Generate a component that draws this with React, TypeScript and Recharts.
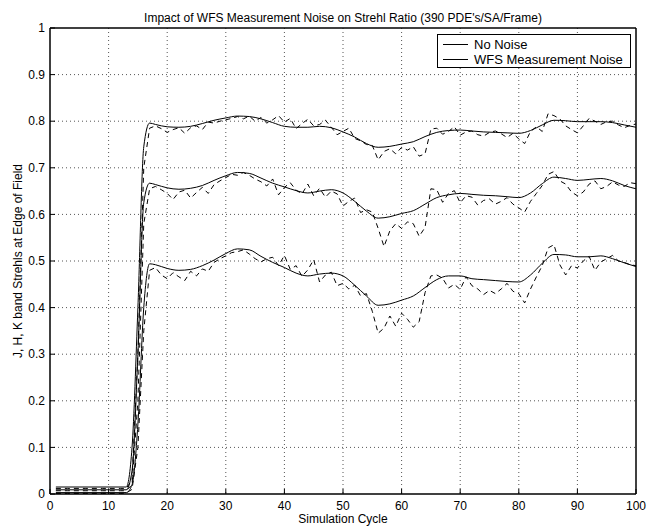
import { CartesianGrid, Line, LineChart, XAxis, YAxis } from "recharts";

// smooth curves (no measurement noise), sampled at these cycles
const cleanCycles = [
    1, 13, 14, 15, 16, 17, 18, 20, 22, 24, 26, 28, 30, 32, 34, 36, 38, 40, 42, 44, 46, 48, 50, 52, 54, 56, 58, 60, 62,
    64, 66, 68, 70, 72, 74, 76, 78, 80, 82, 84, 86, 88, 90, 92, 94, 96, 98, 100,
];
const kClean = [
    0.015, 0.015, 0.1, 0.4, 0.745, 0.796, 0.793, 0.788, 0.787, 0.789, 0.795, 0.802, 0.807, 0.811, 0.81, 0.805, 0.797,
    0.789, 0.787, 0.787, 0.789, 0.786, 0.777, 0.766, 0.752, 0.744, 0.746, 0.751, 0.756, 0.767, 0.776, 0.78, 0.781,
    0.779, 0.777, 0.776, 0.775, 0.774, 0.78, 0.792, 0.802, 0.801, 0.799, 0.799, 0.799, 0.797, 0.792, 0.787,
];
const hClean = [
    0.009, 0.009, 0.05, 0.3, 0.625, 0.667, 0.664, 0.657, 0.654, 0.656, 0.662, 0.673, 0.683, 0.69, 0.688, 0.678, 0.667,
    0.659, 0.651, 0.646, 0.65, 0.653, 0.646, 0.628, 0.607, 0.592, 0.595, 0.602, 0.608, 0.622, 0.636, 0.642, 0.645,
    0.643, 0.641, 0.64, 0.638, 0.636, 0.646, 0.666, 0.68, 0.677, 0.673, 0.675, 0.677, 0.672, 0.662, 0.655,
];
const jClean = [
    0.003, 0.003, 0.02, 0.15, 0.4, 0.494, 0.492, 0.484, 0.48, 0.482, 0.49, 0.502, 0.516, 0.526, 0.524, 0.51, 0.497,
    0.486, 0.474, 0.468, 0.472, 0.474, 0.468, 0.448, 0.425, 0.405, 0.408, 0.416, 0.425, 0.443, 0.46, 0.468, 0.468,
    0.462, 0.46, 0.458, 0.456, 0.455, 0.47, 0.495, 0.514, 0.513, 0.509, 0.509, 0.511, 0.505, 0.496, 0.488,
];

// with WFS measurement noise, one value per cycle
const noisyCycles = [
    1, 2, 3, 4, 5, 6, 7, 8, 9, 10, 11, 12, 13, 14, 15, 16, 17, 18, 19, 20, 21, 22, 23, 24, 25, 26, 27, 28, 29, 30, 31,
    32, 33, 34, 35, 36, 37, 38, 39, 40, 41, 42, 43, 44, 45, 46, 47, 48, 49, 50, 51, 52, 53, 54, 55, 56, 57, 58, 59, 60,
    61, 62, 63, 64, 65, 66, 67, 68, 69, 70, 71, 72, 73, 74, 75, 76, 77, 78, 79, 80, 81, 82, 83, 84, 85, 86, 87, 88, 89,
    90, 91, 92, 93, 94, 95, 96, 97, 98, 99, 100,
];
const kNoisy = [
    0.012, 0.012, 0.012, 0.012, 0.012, 0.012, 0.012, 0.012, 0.012, 0.012, 0.012, 0.012, 0.012, 0.03, 0.3, 0.7, 0.785,
    0.79, 0.784, 0.776, 0.782, 0.786, 0.774, 0.786, 0.79, 0.782, 0.798, 0.796, 0.8, 0.803, 0.806, 0.81, 0.805, 0.811,
    0.8, 0.808, 0.796, 0.803, 0.812, 0.798, 0.806, 0.784, 0.795, 0.804, 0.79, 0.793, 0.802, 0.787, 0.771, 0.778, 0.785,
    0.763, 0.758, 0.75, 0.748, 0.717, 0.735, 0.741, 0.73, 0.744, 0.738, 0.745, 0.725, 0.73, 0.783, 0.785, 0.772,
    0.778, 0.788, 0.77, 0.777, 0.779, 0.771, 0.768, 0.776, 0.779, 0.773, 0.765, 0.774, 0.762, 0.752, 0.778, 0.788,
    0.778, 0.816, 0.812, 0.805, 0.79, 0.782, 0.775, 0.79, 0.806, 0.8, 0.793, 0.799, 0.8, 0.792, 0.786, 0.791, 0.794,
];
const hNoisy = [
    0.007, 0.007, 0.007, 0.007, 0.007, 0.007, 0.007, 0.007, 0.007, 0.007, 0.007, 0.007, 0.007, 0.02, 0.2, 0.58, 0.655,
    0.66, 0.653, 0.645, 0.632, 0.648, 0.652, 0.635, 0.647, 0.658, 0.645, 0.664, 0.672, 0.679, 0.686, 0.684, 0.69,
    0.684, 0.676, 0.67, 0.661, 0.676, 0.642, 0.658, 0.668, 0.652, 0.644, 0.665, 0.64, 0.656, 0.637, 0.65, 0.644, 0.618,
    0.628, 0.635, 0.604, 0.61, 0.605, 0.57, 0.531, 0.565, 0.58, 0.57, 0.584, 0.58, 0.553, 0.572, 0.655, 0.653, 0.626,
    0.645, 0.651, 0.625, 0.64, 0.637, 0.62, 0.63, 0.633, 0.622, 0.628, 0.636, 0.622, 0.614, 0.605, 0.628, 0.645,
    0.662, 0.686, 0.692, 0.672, 0.665, 0.648, 0.64, 0.648, 0.665, 0.672, 0.655, 0.66, 0.67, 0.663, 0.66, 0.668, 0.666,
];
const jNoisy = [
    0.001, 0.001, 0.001, 0.001, 0.001, 0.001, 0.001, 0.001, 0.001, 0.001, 0.001, 0.001, 0.002, 0.01, 0.1, 0.35, 0.48,
    0.486, 0.47, 0.462, 0.475, 0.466, 0.458, 0.478, 0.468, 0.483, 0.478, 0.497, 0.505, 0.511, 0.518, 0.52, 0.524,
    0.515, 0.505, 0.498, 0.505, 0.508, 0.49, 0.512, 0.482, 0.49, 0.467, 0.481, 0.503, 0.455, 0.47, 0.476, 0.447, 0.452,
    0.44, 0.448, 0.425, 0.43, 0.392, 0.345, 0.356, 0.382, 0.36, 0.388, 0.375, 0.358, 0.37, 0.432, 0.468, 0.47, 0.463,
    0.442, 0.45, 0.439, 0.466, 0.447, 0.44, 0.428, 0.437, 0.43, 0.44, 0.452, 0.435, 0.43, 0.41, 0.44, 0.466, 0.49,
    0.528, 0.535, 0.492, 0.47, 0.49, 0.485, 0.5, 0.51, 0.48, 0.498, 0.505, 0.512, 0.5, 0.497, 0.492, 0.49,
];

const xTicks = [0, 10, 20, 30, 40, 50, 60, 70, 80, 90, 100];
const yTicks = [0, 0.1, 0.2, 0.3, 0.4, 0.5, 0.6, 0.7, 0.8, 0.9, 1];

const legendItems = ["No Noise", "WFS Measurement Noise"];

const font = '"Liberation Sans", Arial, sans-serif';

const toPoints = (xs: number[], ys: number[]) => xs.map((x, i) => ({ x, y: ys[i] }));

const tickStyle = { fill: "#000", fontSize: 12, fontFamily: font };

export default function App() {
    const clean = [kClean, hClean, jClean];
    const noisy = [kNoisy, hNoisy, jNoisy];

    return (
        <div style={{ position: "relative", width: 647, height: 527, background: "#fff", fontFamily: font }}>
            <style>{"body{margin:0}"}</style>
            <LineChart width={647} height={527} margin={{ top: 27, right: 10, bottom: 0, left: 0 }}>
                <CartesianGrid
                    stroke="#555"
                    strokeDasharray="1 3"
                    horizontalValues={[0.1, 0.2, 0.3, 0.4, 0.5, 0.6, 0.7, 0.8, 0.9]}
                    verticalValues={[10, 20, 30, 40, 50, 60, 70, 80, 90]}
                />
                <XAxis
                    type="number"
                    dataKey="x"
                    domain={[0, 100]}
                    ticks={xTicks}
                    height={33}
                    tickSize={-5}
                    tickMargin={12}
                    tick={tickStyle}
                    axisLine={{ stroke: "#000", strokeWidth: 1.5 }}
                    tickLine={{ stroke: "#000" }}
                    allowDataOverflow
                />
                <XAxis
                    xAxisId="top"
                    orientation="top"
                    type="number"
                    domain={[0, 100]}
                    ticks={xTicks}
                    height={1}
                    tickSize={-5}
                    tick={false}
                    axisLine={{ stroke: "#000", strokeWidth: 1.5 }}
                    tickLine={{ stroke: "#000" }}
                />
                <YAxis
                    type="number"
                    domain={[0, 1]}
                    ticks={yTicks}
                    width={50}
                    tickSize={-5}
                    tickMargin={10}
                    tick={tickStyle}
                    axisLine={{ stroke: "#000", strokeWidth: 1.5 }}
                    tickLine={{ stroke: "#000" }}
                    allowDataOverflow
                />
                <YAxis
                    yAxisId="right"
                    orientation="right"
                    type="number"
                    domain={[0, 1]}
                    ticks={yTicks}
                    width={1}
                    tickSize={-5}
                    tick={false}
                    axisLine={{ stroke: "#000", strokeWidth: 1.5 }}
                    tickLine={{ stroke: "#000" }}
                />
                {noisy.map((vals, i) => (
                    <Line
                        key={"n" + i}
                        data={toPoints(noisyCycles, vals)}
                        dataKey="y"
                        type="linear"
                        stroke="#000"
                        strokeWidth={1}
                        strokeDasharray="5 4"
                        dot={false}
                        isAnimationActive={false}
                    />
                ))}
                {clean.map((vals, i) => (
                    <Line
                        key={"c" + i}
                        data={toPoints(cleanCycles, vals)}
                        dataKey="y"
                        type="monotone"
                        stroke="#000"
                        strokeWidth={1}
                        dot={false}
                        isAnimationActive={false}
                    />
                ))}
            </LineChart>

            <div
                style={{
                    position: "absolute",
                    left: 343,
                    top: 18,
                    transform: "translate(-50%, -50%)",
                    fontSize: 12,
                    whiteSpace: "nowrap",
                }}
            >
                Impact of WFS Measurement Noise on Strehl Ratio (390 PDE's/SA/Frame)
            </div>
            <div
                style={{
                    position: "absolute",
                    left: 343,
                    top: 519,
                    transform: "translate(-50%, -50%)",
                    fontSize: 12,
                    whiteSpace: "nowrap",
                }}
            >
                Simulation Cycle
            </div>
            <div
                style={{
                    position: "absolute",
                    left: 18,
                    top: 261,
                    transform: "translate(-50%, -50%) rotate(-90deg)",
                    fontSize: 12,
                    whiteSpace: "nowrap",
                }}
            >
                J, H, K band Strehls at Edge of Field
            </div>

            <div
                style={{
                    position: "absolute",
                    left: 437,
                    top: 34,
                    width: 192,
                    height: 32,
                    border: "1px solid #000",
                    background: "#fff",
                }}
            >
                {legendItems.map((name, i) => (
                    <div
                        key={name}
                        style={{
                            position: "absolute",
                            left: 5,
                            top: 2 + i * 15,
                            height: 15,
                            display: "flex",
                            alignItems: "center",
                            fontSize: 13,
                            whiteSpace: "nowrap",
                        }}
                    >
                        <span style={{ display: "inline-block", width: 25, borderTop: "1px solid #000", marginRight: 6 }} />
                        {name}
                    </div>
                ))}
            </div>
        </div>
    );
}
